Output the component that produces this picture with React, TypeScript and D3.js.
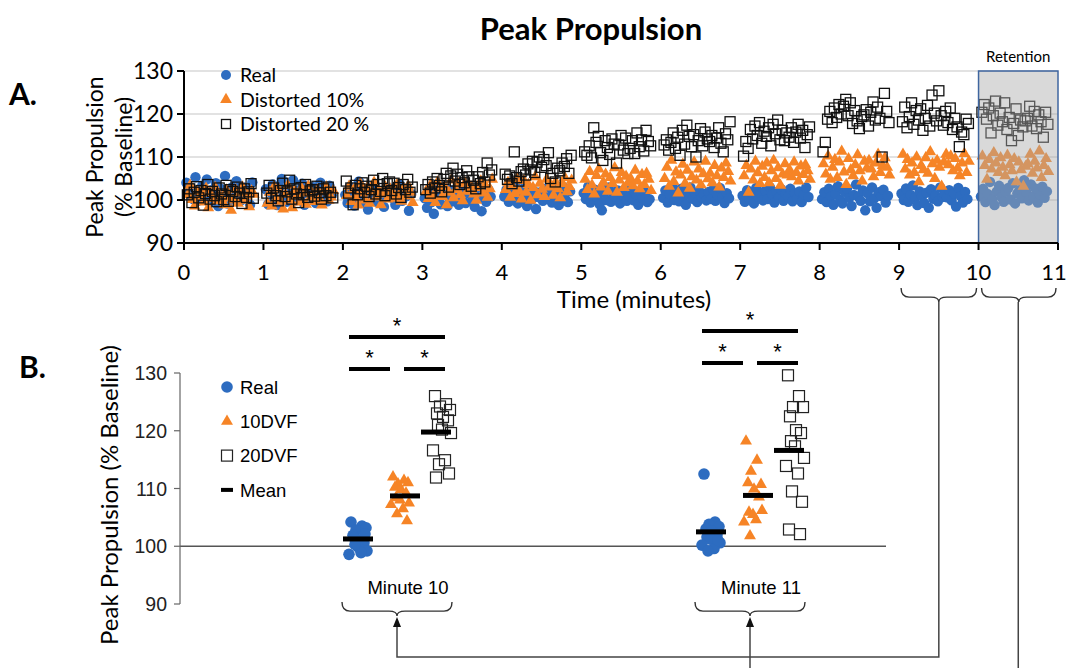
import React from 'react'
import * as d3 from 'd3'

// Panel A: one row per minute block, trials in order
const minutesA = [0, 1, 2, 3, 4, 5, 6, 7, 8, 9, 10]
const xTicksA = [0, 1, 2, 3, 4, 5, 6, 7, 8, 9, 10, 11]
const yTicksA = [90, 100, 110, 120, 130]

const realA = [
  [104.0, 101.5, 102.8, 100.2, 105.3, 99.8, 101.9, 103.4, 100.6, 104.8, 99.5, 102.3, 101.0, 103.9, 98.6, 102.6, 100.1, 105.6, 99.2, 101.7, 102.9, 100.7, 104.4, 101.3, 99.9, 103.0, 100.4, 102.1, 98.9, 104.1],
  [102.5, 99.0, 101.8, 103.6, 100.4, 98.8, 102.9, 104.9, 100.9, 99.6, 103.2, 101.3, 104.6, 99.9, 102.1, 100.5, 103.8, 98.9, 101.6, 102.7, 100.7, 103.0, 99.3, 101.9, 104.0, 100.1, 102.4, 99.7, 103.3, 101.1],
  [101.2, 99.3, 103.0, 100.6, 98.7, 102.4, 104.3, 100.0, 101.8, 99.1, 97.8, 102.9, 100.8, 103.5, 99.6, 101.5, 100.2, 98.4, 102.0, 101.0, 102.6, 100.4, 98.9, 101.7, 103.6, 99.8, 102.2, 100.9, 97.5, 101.4],
  [100.4, 98.2, 101.9, 99.5, 96.8, 102.6, 100.9, 99.0, 101.4, 103.1, 98.6, 100.2, 102.2, 99.7, 101.1, 98.9, 100.6, 102.8, 99.3, 101.6, 101.8, 99.9, 98.4, 102.0, 100.5, 97.4, 101.2, 99.6, 102.4, 100.8],
  [100.8, 102.4, 99.6, 101.5, 100.0, 103.2, 99.2, 101.9, 100.4, 102.9, 98.6, 101.2, 100.1, 102.1, 97.9, 100.7, 101.8, 99.8, 102.6, 100.3, 101.6, 99.4, 102.8, 100.6, 98.8, 101.3, 103.0, 100.0, 99.5, 102.0],
  [101.6, 100.2, 103.1, 99.4, 101.0, 102.4, 100.6, 99.0, 97.6, 101.8, 100.0, 102.9, 99.6, 101.3, 100.8, 102.2, 99.2, 101.5, 100.4, 99.8, 100.9, 102.6, 99.9, 101.4, 98.9, 102.0, 100.5, 101.8, 99.5, 100.2],
  [100.5, 102.2, 99.4, 101.4, 103.3, 100.0, 101.8, 99.7, 102.6, 100.9, 98.9, 101.2, 102.9, 100.3, 101.7, 99.5, 102.0, 100.6, 101.4, 99.9, 101.9, 100.2, 102.4, 99.8, 101.1, 102.8, 100.7, 99.3, 101.6, 100.4],
  [101.0, 99.6, 102.3, 100.4, 101.7, 99.2, 102.8, 100.8, 101.4, 99.9, 102.1, 100.2, 103.0, 101.2, 99.4, 101.9, 100.6, 102.5, 99.8, 101.5, 100.9, 102.6, 99.7, 101.6, 100.3, 102.0, 99.5, 101.3, 102.9, 100.7],
  [100.2, 101.8, 99.5, 102.6, 100.9, 98.9, 101.4, 103.2, 100.0, 99.2, 101.9, 102.7, 100.5, 98.6, 101.2, 103.6, 100.8, 99.8, 102.2, 97.6, 101.6, 99.7, 102.9, 100.4, 98.2, 101.8, 100.9, 102.4, 99.4, 101.0],
  [101.5, 100.0, 102.7, 99.6, 101.2, 103.4, 100.5, 98.8, 102.0, 100.9, 99.3, 101.7, 98.2, 102.5, 100.3, 101.0, 99.7, 102.9, 100.7, 101.4, 100.6, 102.3, 99.9, 101.6, 98.5, 102.8, 100.9, 99.4, 101.9, 100.2],
  [100.8, 102.6, 99.5, 101.4, 104.2, 100.2, 98.8, 102.0, 103.3, 100.7, 99.6, 101.9, 102.8, 100.1, 103.9, 99.2, 101.5, 102.3, 100.4, 104.6, 101.8, 99.9, 103.6, 100.8, 102.7, 99.4, 101.2, 103.1, 100.5, 102.0],
]

const dist10A = [
  [101.2, 103.4, 100.1, 98.6, 102.0, 100.8, 101.9, 99.5, 102.7, 98.2, 101.5, 100.3, 102.9, 99.8, 101.0, 100.4, 98.9, 102.3, 100.6, 97.6, 100.0, 102.4, 99.2, 101.6, 103.0, 99.9, 100.9, 98.4, 102.1, 101.3],
  [99.2, 101.8, 98.6, 103.1, 100.4, 102.5, 99.7, 97.9, 101.3, 103.4, 100.0, 98.2, 102.1, 100.9, 99.5, 102.8, 101.6, 99.0, 103.2, 100.6, 101.2, 99.6, 102.4, 100.2, 98.8, 101.9, 103.0, 99.9, 100.7, 102.2],
  [101.0, 103.2, 99.6, 102.4, 100.5, 98.8, 103.8, 101.6, 100.0, 102.9, 99.2, 101.9, 104.1, 100.7, 102.2, 98.9, 101.4, 103.0, 100.2, 102.6, 102.0, 100.4, 103.5, 101.2, 99.7, 102.7, 100.9, 103.3, 101.8, 99.4],
  [102.1, 100.3, 103.6, 101.0, 99.4, 104.2, 102.7, 100.8, 103.1, 98.9, 101.8, 104.6, 100.5, 102.4, 103.8, 101.2, 99.8, 104.0, 102.0, 103.3, 103.0, 101.4, 99.9, 102.9, 104.4, 101.6, 103.4, 100.6, 102.6, 104.8],
  [102.4, 104.1, 100.6, 103.2, 101.5, 105.0, 102.0, 100.2, 104.5, 101.8, 103.6, 99.9, 102.9, 105.4, 101.2, 103.9, 102.5, 100.8, 104.8, 103.0, 103.4, 101.1, 104.2, 102.6, 100.5, 103.8, 105.2, 101.9, 103.1, 104.6],
  [104.8, 102.4, 106.6, 103.5, 101.4, 105.7, 107.2, 103.0, 104.1, 106.0, 102.0, 105.2, 103.8, 107.5, 101.8, 104.6, 106.4, 102.9, 105.5, 104.0, 105.0, 103.3, 106.9, 104.4, 102.6, 105.9, 103.6, 106.2, 104.8, 102.2],
  [105.0, 107.6, 103.2, 109.2, 104.3, 106.5, 101.6, 105.8, 108.3, 103.9, 106.9, 102.7, 105.4, 108.8, 104.6, 107.2, 103.5, 106.1, 109.0, 104.9, 106.2, 104.0, 108.0, 105.6, 103.0, 107.4, 105.2, 108.6, 106.6, 104.4],
  [105.6, 108.0, 101.8, 107.2, 104.6, 109.0, 106.3, 103.8, 107.8, 105.2, 108.6, 104.0, 106.8, 109.2, 105.0, 107.5, 103.4, 106.0, 108.4, 105.8, 107.0, 105.4, 108.8, 106.4, 104.4, 107.9, 105.9, 108.2, 106.8, 104.8],
  [108.4, 106.0, 110.2, 104.8, 107.6, 109.4, 105.2, 108.8, 111.3, 106.5, 103.6, 109.6, 107.0, 105.6, 108.2, 110.5, 106.8, 104.4, 109.0, 107.4, 109.2, 107.2, 105.4, 108.6, 110.6, 106.4, 108.0, 109.8, 107.6, 105.8],
  [110.6, 107.2, 109.4, 105.8, 108.6, 106.4, 110.0, 104.2, 108.0, 107.0, 109.8, 106.2, 111.2, 108.4, 105.0, 109.2, 107.6, 103.2, 108.8, 110.6, 108.2, 110.2, 106.8, 109.6, 107.4, 105.6, 108.6, 110.8, 106.4, 109.0],
  [110.2, 108.0, 104.8, 109.4, 107.2, 111.0, 108.6, 106.4, 109.8, 107.6, 105.6, 110.4, 108.2, 106.8, 109.6, 104.2, 108.8, 107.0, 103.2, 107.8, 108.4, 110.6, 106.2, 109.0, 107.4, 111.4, 105.2, 108.0, 109.6, 106.6],
]

const dist20A = [
  [101.2, 102.6, 99.4, 101.8, 103.1, 100.5, 102.2, 98.8, 101.5, 103.6, 100.2, 102.0, 101.0, 99.6, 102.8, 101.4, 100.1, 103.4, 99.7, 102.4, 102.0, 100.8, 103.0, 101.6, 99.2, 102.6, 100.6, 101.9, 103.8, 100.4],
  [101.6, 103.4, 100.4, 102.8, 101.0, 99.8, 102.2, 103.9, 100.8, 101.9, 104.6, 100.2, 102.6, 101.4, 99.4, 102.9, 101.2, 103.6, 100.6, 102.1, 102.4, 100.9, 103.2, 101.7, 100.2, 102.6, 101.0, 103.0, 101.8, 100.5],
  [104.4, 101.6, 102.8, 98.9, 103.4, 101.2, 102.6, 104.0, 101.8, 103.2, 100.8, 102.4, 104.6, 101.4, 103.6, 102.0, 105.0, 101.0, 103.8, 104.2, 102.2, 103.9, 101.4, 102.9, 100.6, 103.6, 102.4, 104.8, 101.8, 103.0],
  [102.4, 103.6, 101.6, 104.2, 102.8, 105.0, 103.4, 101.9, 104.8, 106.2, 103.0, 105.6, 107.4, 104.4, 106.0, 103.6, 105.2, 104.0, 106.8, 105.4, 103.2, 104.6, 102.6, 105.4, 103.8, 106.4, 104.2, 108.6, 105.8, 107.0],
  [106.0, 104.8, 105.6, 103.8, 111.2, 105.2, 104.4, 106.6, 107.2, 105.8, 108.4, 107.0, 109.0, 106.4, 108.8, 110.0, 107.6, 109.4, 108.0, 111.0, 105.0, 106.2, 104.2, 107.4, 106.8, 108.6, 107.8, 109.6, 106.2, 110.4],
  [111.2, 110.4, 112.6, 109.8, 116.8, 113.4, 114.8, 111.0, 109.2, 113.8, 112.2, 110.6, 114.2, 113.0, 108.6, 112.8, 115.0, 111.6, 114.4, 110.8, 112.0, 113.8, 110.8, 115.6, 112.4, 114.0, 111.4, 116.2, 113.6, 112.6],
  [112.8, 114.0, 111.6, 113.4, 115.6, 112.0, 114.6, 110.4, 116.2, 113.0, 117.4, 114.8, 112.4, 115.2, 110.0, 113.8, 116.6, 112.6, 115.8, 114.2, 113.6, 115.0, 112.2, 114.4, 116.8, 113.2, 111.2, 115.4, 114.0, 118.2],
  [110.2, 113.6, 112.0, 116.4, 114.2, 117.2, 115.0, 118.0, 113.2, 116.0, 114.8, 116.8, 112.6, 117.6, 115.4, 118.6, 114.0, 116.2, 113.8, 115.6, 114.6, 116.8, 113.4, 115.8, 117.6, 114.4, 116.2, 112.2, 115.2, 117.0],
  [111.2, 113.4, 118.8, 120.6, 118.0, 121.4, 119.2, 122.2, 120.0, 121.8, 123.4, 119.6, 122.6, 117.8, 120.8, 118.4, 116.6, 119.4, 119.8, 121.0, 117.2, 120.4, 122.8, 118.6, 121.6, 119.0, 110.0, 124.8, 120.6, 118.0],
  [118.2, 121.6, 116.8, 119.4, 122.6, 117.6, 120.8, 118.6, 121.2, 116.2, 119.0, 122.0, 117.2, 124.4, 120.2, 118.4, 125.4, 119.6, 117.4, 120.6, 118.0, 121.4, 116.4, 119.0, 117.0, 112.4, 115.8, 115.2, 118.8, 117.8],
  [120.4, 122.2, 118.8, 121.4, 115.6, 119.6, 123.0, 117.4, 120.2, 118.2, 122.6, 116.4, 119.2, 113.8, 117.8, 121.2, 115.0, 118.6, 117.0, 118.4, 119.0, 121.8, 117.2, 120.6, 116.6, 119.8, 118.2, 114.6, 120.4, 117.6],
]

const legendA = ['Real', 'Distorted 10%', 'Distorted 20 %']

// Panel B
const groupsB = ['Minute 10', 'Minute 11']
const seriesB = ['Real', '10DVF', '20DVF']
const legendB = ['Real', '10DVF', '20DVF', 'Mean']
const yTicksB = [90, 100, 110, 120, 130]
const realB = [
  [104.2, 103.5, 102.8, 103.2, 101.9, 101.0, 100.6, 101.5, 99.9, 99.2, 98.6, 98.9, 100.3, 102.1],
  [112.5, 104.2, 103.8, 103.4, 103.0, 102.6, 102.0, 101.6, 101.2, 100.6, 100.2, 99.6, 99.2, 101.0],
]
const dvf10B = [
  [112.0, 111.4, 110.8, 111.0, 110.2, 109.8, 109.2, 108.4, 108.0, 107.5, 107.2, 106.5, 105.6, 104.4],
  [118.2, 114.9, 113.0, 110.7, 111.0, 109.9, 108.5, 105.9, 105.5, 106.2, 104.2, 104.6, 101.8],
]
const dvf20B = [
  [126.0, 124.6, 124.2, 123.6, 123.0, 122.4, 121.8, 121.0, 120.2, 119.6, 116.6, 114.9, 114.2, 112.6, 111.9],
  [129.6, 126.0, 124.1, 124.1, 122.5, 120.1, 119.6, 118.2, 117.3, 115.3, 113.9, 112.6, 109.5, 107.7, 102.9, 102.1],
]
const comparisons = [[0, 1], [1, 2], [0, 2]]

const BLUE = '#2d6cc0'
const ORANGE = '#f68426'
const FA = 'Lato, sans-serif'
const FB = '"Liberation Sans", Arial, sans-serif'

const jitter = [-7, 4, -2, 8, -5, 1, 6, -4, 0, 9, -9, 3, -3, 7, -6, 5]

const brace = (x1: number, x2: number, y0: number, h: number) => {
  const cx = (x1 + x2) / 2
  const m = y0 + h * 0.65
  const r = 8
  return `M${x1},${y0} Q${x1},${m} ${x1 + r},${m} L${cx - r},${m} Q${cx},${m} ${cx},${y0 + h} Q${cx},${m} ${cx + r},${m} L${x2 - r},${m} Q${x2},${m} ${x2},${y0}`
}

const arrowUp = (x: number, y: number) => `M${x},${y} L${x - 4},${y + 10} L${x + 4},${y + 10} Z`

export default function App() {
  const xA = d3.scaleLinear().domain([0, 11]).range([184, 1058])
  const yA = d3.scaleLinear().domain([90, 130]).range([243, 71])
  const yB = d3.scaleLinear().domain([90, 130]).range([604, 373])
  const xGroup = d3.scalePoint<string>().domain(groupsB).range([400, 753])
  const xSeries = d3.scalePoint<string>().domain(seriesB).range([-42, 42])

  const triA = d3.symbol(d3.symbolTriangle, 60)()
  const triB = d3.symbol(d3.symbolTriangle, 62)()
  const tAt = (m: number, i: number, n: number) => xA(m + 0.03 + (i * 0.83) / (n - 1))

  const dataB = [realB, dvf10B, dvf20B]

  const bottomY = 657
  const c1 = (xA(9) + xA(10)) / 2
  const c2 = (xA(10) + xA(11)) / 2

  return (
    <svg width={1069} height={668} style={{ position: 'absolute', left: 0, top: 0, background: '#fff' }}>
      <text x={591} y={40} textAnchor="middle" fontFamily={FA} fontWeight="bold" fontSize={31}>Peak Propulsion</text>
      <text x={9} y={105} fontFamily={FA} fontWeight="bold" fontSize={30}>A.</text>
      <text x={19} y={378} fontFamily={FA} fontWeight="bold" fontSize={30}>B.</text>

      {/* Panel A */}
      {yTicksA.filter(v => v > 90).map(v => (
        <line key={v} x1={xA(0)} x2={xA(11)} y1={yA(v)} y2={yA(v)} stroke="#d9d9d9" strokeWidth={1.5} />
      ))}
      {minutesA.map(m => realA[m].map((v, i) => (
        <circle key={`r${m}-${i}`} cx={tAt(m, i, realA[m].length)} cy={yA(v)} r={5.2} fill={BLUE} />
      )))}
      {minutesA.map(m => dist10A[m].map((v, i) => (
        <path key={`o${m}-${i}`} d={triA!} transform={`translate(${tAt(m, i, dist10A[m].length) + 1.5},${yA(v)})`} fill={ORANGE} />
      )))}
      {minutesA.map(m => dist20A[m].map((v, i) => (
        <rect key={`s${m}-${i}`} x={tAt(m, i, dist20A[m].length) + 1 - 5} y={yA(v) - 5} width={10} height={10} fill="none" stroke="#111" strokeWidth={1.3} />
      )))}
      <rect x={xA(10)} y={yA(130)} width={xA(11) - xA(10)} height={yA(90) - yA(130)} fill="#aaaaaa" fillOpacity={0.45} />
      <rect x={xA(10)} y={yA(130)} width={xA(11) - xA(10)} height={yA(90) - yA(130)} fill="none" stroke="#3f66a0" strokeWidth={1.5} />
      <text x={(xA(10) + xA(11)) / 2} y={62} textAnchor="middle" fontFamily={FA} fontSize={15}>Retention</text>

      <line x1={xA(0)} x2={xA(0)} y1={yA(130)} y2={yA(90)} stroke="#000" strokeWidth={2} />
      <line x1={xA(0)} x2={xA(11)} y1={yA(90)} y2={yA(90)} stroke="#000" strokeWidth={2} />
      {yTicksA.map(v => (
        <g key={v}>
          <line x1={xA(0) - 7} x2={xA(0)} y1={yA(v)} y2={yA(v)} stroke="#000" strokeWidth={2} />
          <text x={xA(0) - 11} y={yA(v)} dy="0.36em" textAnchor="end" fontFamily={FA} fontSize={23}>{v}</text>
        </g>
      ))}
      {xTicksA.map(t => (
        <g key={t}>
          <line x1={xA(t)} x2={xA(t)} y1={yA(90)} y2={yA(90) + 7} stroke="#000" strokeWidth={2} />
          <text x={Math.min(xA(t), 1054)} y={280} textAnchor="middle" fontFamily={FA} fontSize={22}>{t}</text>
        </g>
      ))}
      <text x={634} y={308} textAnchor="middle" fontFamily={FA} fontSize={24}>Time (minutes)</text>
      <text transform="translate(103,157) rotate(-90)" textAnchor="middle" fontFamily={FA} fontSize={23}>Peak Propulsion</text>
      <text transform="translate(132,157) rotate(-90)" textAnchor="middle" fontFamily={FA} fontSize={23}>(% Baseline)</text>

      {legendA.map((l, i) => {
        const y = 75 + i * 24.5
        return (
          <g key={l}>
            {i === 0 && <circle cx={226} cy={y} r={5} fill={BLUE} />}
            {i === 1 && <path d={triA!} transform={`translate(226,${y})`} fill={ORANGE} />}
            {i === 2 && <rect x={221.5} y={y - 4.5} width={9} height={9} fill="none" stroke="#111" strokeWidth={1.3} />}
            <text x={240} y={y} dy="0.36em" fontFamily={FA} fontSize={19.5}>{l}</text>
          </g>
        )
      })}

      {/* braces and connectors */}
      <path d={brace(xA(9) + 2, xA(10) - 2, 288, 14)} fill="none" stroke="#333" strokeWidth={1.4} />
      <path d={brace(xA(10) + 3, xA(11) - 2, 288, 14)} fill="none" stroke="#333" strokeWidth={1.4} />
      <path d={`M${c1},302 L${c1},${bottomY} L${xGroup('Minute 10')! - 3},${bottomY} L${xGroup('Minute 10')! - 3},624`} fill="none" stroke="#444" strokeWidth={1.5} />
      <path d={`M${c2},302 L${c2},668`} fill="none" stroke="#444" strokeWidth={1.5} />
      <path d={`M${xGroup('Minute 11')! - 3},668 L${xGroup('Minute 11')! - 3},624`} fill="none" stroke="#444" strokeWidth={1.5} />
      {groupsB.map(g => (
        <g key={g}>
          <path d={brace(xGroup(g)! - 58, xGroup(g)! + 52, 602, 14)} fill="none" stroke="#333" strokeWidth={1.4} />
          <path d={arrowUp(xGroup(g)! - 3, 617)} fill="#111" />
          <text x={xGroup(g)! + 8} y={594} textAnchor="middle" fontFamily={FB} fontSize={18.5}>{g}</text>
        </g>
      ))}

      {/* Panel B */}
      <line x1={180} x2={886} y1={yB(100)} y2={yB(100)} stroke="#555" strokeWidth={1.3} />
      <line x1={180} x2={180} y1={yB(130)} y2={yB(90)} stroke="#666" strokeWidth={1.2} />
      {yTicksB.map(v => (
        <g key={v}>
          <line x1={174} x2={180} y1={yB(v)} y2={yB(v)} stroke="#666" strokeWidth={1.2} />
          <text x={167} y={yB(v)} dy="0.36em" textAnchor="end" fontFamily={FB} fontSize={19.5} fill="#222">{v}</text>
        </g>
      ))}
      <text transform="translate(118,495) rotate(-90)" textAnchor="middle" fontFamily={FA} fontSize={24}>Peak Propulsion (% Baseline)</text>

      {groupsB.map((g, gi) => seriesB.map((s, si) => {
        const cx = xGroup(g)! + xSeries(s)!
        const vals = dataB[si][gi]
        const mean = d3.mean(vals)!
        return (
          <g key={`${g}-${s}`}>
            {vals.map((v, i) => {
              const x = cx + jitter[i % jitter.length]
              if (si === 0) return <circle key={i} cx={x} cy={yB(v)} r={5.8} fill={BLUE} />
              if (si === 1) return <path key={i} d={triB!} transform={`translate(${x},${yB(v)})`} fill={ORANGE} />
              return <rect key={i} x={x - 5.5} y={yB(v) - 5.5} width={11} height={11} fill="none" stroke="#222" strokeWidth={1.2} />
            })}
            <rect x={cx - 15 + (si === 2 ? -6 : si === 1 ? 5 : 0)} y={yB(mean) - 2.5} width={30} height={5} fill="#000" />
          </g>
        )
      }))}

      {groupsB.map((g, gi) => comparisons.map(([a, b]) => {
        const xa = xGroup(g)! + xSeries(seriesB[a])! - 9 + (a === 1 ? 13 : 0)
        const xb = xGroup(g)! + xSeries(seriesB[b])! + 3 - (b === 1 ? 13 : 0)
        const y = (b - a === 2 ? 337 : 369) - gi * 6
        return (
          <g key={`${g}-${a}-${b}`}>
            <line x1={xa} x2={xb} y1={y} y2={y} stroke="#000" strokeWidth={4} />
            <text x={(xa + xb) / 2} y={y - 4} textAnchor="middle" fontFamily={FB} fontSize={22}>*</text>
          </g>
        )
      }))}

      {legendB.map((l, i) => {
        const y = 387 + i * 34.3
        return (
          <g key={l}>
            {i === 0 && <circle cx={227} cy={y} r={5.8} fill={BLUE} />}
            {i === 1 && <path d={triB!} transform={`translate(227,${y})`} fill={ORANGE} />}
            {i === 2 && <rect x={221.5} y={y - 5.5} width={11} height={11} fill="none" stroke="#222" strokeWidth={1.2} />}
            {i === 3 && <rect x={221} y={y - 2} width={12} height={4} fill="#000" />}
            <text x={240} y={y} dy="0.36em" fontFamily={FB} fontSize={18.5}>{l}</text>
          </g>
        )
      })}
    </svg>
  )
}
